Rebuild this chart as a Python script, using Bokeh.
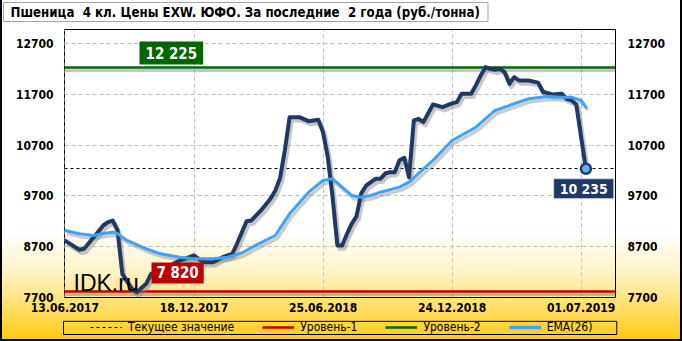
from bokeh.plotting import figure
from bokeh.models import (Range1d, FixedTicker, LinearAxis, Label, Legend, LegendItem)
from bokeh.embed import file_html
from bokeh.resources import INLINE

# ---------------- data ----------------
TITLE = "Пшеница \u00a04 кл. Цены EXW. ЮФО. За последние \u00a02 года (руб./тонна)"
tick_weeks = [0, 27, 54, 81, 108]
tick_dates = ["13.06.2017", "18.12.2017", "25.06.2018", "24.12.2018", "01.07.2019"]
y_ticks = [7700, 8700, 9700, 10700, 11700, 12700]

price_week = [0, 3, 4, 6, 7, 8, 9, 10, 11, 12, 14, 15, 17, 18, 20, 22, 24, 25, 27, 28,
              29, 31, 33, 35, 36, 38, 39, 41, 43, 44, 45, 46, 47, 49, 51, 53, 54, 55,
              56, 57, 58, 59, 60, 61, 62, 63, 64, 65, 66, 67, 68, 69, 70, 71, 72, 73,
              74, 75, 77, 79, 81, 82, 83, 85, 86, 87, 88, 89, 90, 91, 92, 93, 94, 95,
              97, 99, 100, 102, 104, 105, 106, 107, 108, 109]
price = [8820, 8640, 8660, 8887, 9000, 9117, 9182, 9215, 9020, 8165, 7871, 7804, 7970, 8166,
         8231, 8330, 8428, 8462, 8527, 8462, 8395, 8395, 8493, 8560, 8757, 9200, 9216, 9413,
         9643, 9800, 10050, 10594, 11249, 11249, 11170, 11198, 10950, 10462, 9675, 8724,
         8724, 8950, 9150, 9300, 9750, 9900, 9970, 10036, 10036, 10140, 10167, 10167, 10400,
         10450, 10068, 11184, 11218, 11151, 11500, 11447, 11520, 11545, 11709, 11709, 11880,
         12070, 12234, 12201, 12181, 12201, 12135, 11906, 12037, 11972, 11972, 11930, 11750,
         11697, 11709, 11611, 11578, 11500, 10856, 10235]

ema_week = [0, 3, 6, 8, 10, 11, 13, 17, 20, 24, 27, 31, 34, 37, 40, 44, 47, 51, 54, 56,
            58, 60, 62, 64, 66, 70, 72, 77, 81, 86, 90, 94, 97, 101, 104, 106, 108, 109]
ema = [9019, 8954, 8920, 8960, 8986, 8954, 8822, 8659, 8560, 8493, 8462, 8462, 8493, 8575,
       8730, 8920, 9347, 9773, 10003, 10036, 9872, 9708, 9675, 9708, 9773, 9872, 9970,
       10397, 10790, 11052, 11381, 11513, 11611, 11657, 11643, 11643, 11578, 11447]

level1 = 7820
level2 = 12225
current = price[-1]

legend_labels = ["Текущее значение", "Уровень-1", "Уровень-2", "EMA(26)"]

# ---------------- layout constants ----------------
W, H = 682, 341
H_TITLE, H_MAIN, H_LEG = 27, 289, 25
FL, FR, FT, FB = 64, 67, 2, 19
x0, x1 = -0.1, 115.2
y0, y1 = 7700, 12975
ppx = (W - FL - FR) / (x1 - x0)
ppy = (H_MAIN - FT - FB) / (y1 - y0)
FONT = "DejaVu Sans Condensed"

C_L1, C_L2, C_CUR, C_EMA, C_PRICE = "#c00000", "#006600", "black", "#3fa2f7", "#1f3864"


def strip_styles(top, bottom_border=False):
    sh = "inset 2px 0 0 0 #000, inset -2px 0 0 0 #000"
    if bottom_border:
        sh += ", inset 0 -2px 0 0 #000"
    return {"background": f"linear-gradient(to bottom, #ffffff {0 - top}px, #ffffff {232 - top}px, "
                          f"#fff3c4 {273 - top}px, #ffdf6a {307 - top}px, #ffca10 {341 - top}px)",
            "box-shadow": sh}


def blank_fig(h):
    f = figure(width=W, height=h, x_range=Range1d(0, 1), y_range=Range1d(0, 1),
               output_backend="svg", toolbar_location=None,
               x_axis_location=None, y_axis_location=None,
               min_border=0, min_border_left=0, min_border_right=0,
               min_border_top=0, min_border_bottom=0)
    f.grid.visible = False
    f.outline_line_color = None
    f.background_fill_color = None
    f.border_fill_color = None
    return f


def boxed(fig, text, x, y, xu, yu, anchor, bg, size, xo=0, yo=0, pad=None, color="white",
          border=None, shadow=True, font=FONT, style="bold"):
    pad = pad or {"left": 5, "right": 5, "top": 2, "bottom": 2}
    if shadow:
        fig.add_layout(Label(x=x, y=y, x_units=xu, y_units=yu, anchor=anchor, text=text,
                             x_offset=xo + 3, y_offset=yo - 3, text_alpha=0,
                             text_font=font, text_font_size=size, text_font_style=style,
                             background_fill_color="#7f7f7f", background_fill_alpha=0.55,
                             padding=pad))
    fig.add_layout(Label(x=x, y=y, x_units=xu, y_units=yu, anchor=anchor, text=text,
                         x_offset=xo, y_offset=yo, text_color=color,
                         text_font=font, text_font_size=size, text_font_style=style,
                         background_fill_color=bg, border_line_color=border,
                         padding=pad))


# ---------------- title strip ----------------
pt = blank_fig(H_TITLE)
pt.styles = strip_styles(0)
boxed(pt, TITLE, 3, H_TITLE - 2, "screen", "screen", "top_left", "white", "13.2px",
      color="black", border="#a6a6a6", pad={"left": 7, "right": 8, "top": 2, "bottom": 2})

# ---------------- main chart ----------------
p = figure(width=W, height=H_MAIN, x_range=Range1d(x0, x1), y_range=Range1d(y0, y1),
           output_backend="svg", toolbar_location=None,
           min_border_left=FL, min_border_right=FR, min_border_top=FT, min_border_bottom=FB)
p.styles = strip_styles(H_TITLE)
p.extra_x_ranges = {"sh": Range1d(x0 - 2 / ppx, x1 - 2 / ppx)}
p.extra_y_ranges = {"sh": Range1d(y0 + 3 / ppy, y1 + 3 / ppy)}
p.background_fill_color = None
p.border_fill_color = None
p.outline_line_color = "black"
p.outline_line_width = 1


def style_axis(ax, standoff):
    ax.major_tick_in = 0
    ax.major_tick_out = 0
    ax.minor_tick_in = 0
    ax.minor_tick_out = 0
    ax.axis_line_color = None
    ax.major_label_standoff = standoff
    ax.major_label_text_font = FONT
    ax.major_label_text_font_style = "bold"
    ax.major_label_text_font_size = "12px"
    ax.major_label_text_color = "black"


p.yaxis.ticker = FixedTicker(ticks=y_ticks)
style_axis(p.yaxis[0], 11)
ry = LinearAxis(ticker=FixedTicker(ticks=y_ticks))
style_axis(ry, 12)
p.add_layout(ry, "right")

p.xaxis.ticker = FixedTicker(ticks=tick_weeks)
p.xaxis.major_label_overrides = {w: d for w, d in zip(tick_weeks, tick_dates)}
style_axis(p.xaxis[0], 5)

p.xgrid.grid_line_color = "#bfbfbf"
p.xgrid.grid_line_dash = "4 3"
p.ygrid.grid_line_color = "#bfbfbf"
p.ygrid.grid_line_dash = "4 3"

p.hspan(y=[level1, level2], line_color="#808080", line_alpha=0.45, line_width=3,
        x_range_name="sh", y_range_name="sh")
p.hspan(y=[level1], line_color=C_L1, line_width=2.5)
p.hspan(y=[level2], line_color=C_L2, line_width=2.5)
p.hspan(y=[current], line_color=C_CUR, line_dash="3 3", line_width=1)

p.line(price_week, price, line_color="#808080", line_alpha=0.45, line_width=4.5,
       line_join="round", x_range_name="sh", y_range_name="sh")
p.line(ema_week, ema, line_color="#808080", line_alpha=0.4, line_width=3.5,
       line_join="round", x_range_name="sh", y_range_name="sh")
p.line(price_week, price, line_color=C_PRICE, line_width=4, line_join="round", line_cap="round")
p.line(ema_week, ema, line_color=C_EMA, line_width=3, line_join="round", line_cap="round")
p.scatter([price_week[-1]], [price[-1]], size=10, fill_color="#5ab4e5",
          line_color=C_PRICE, line_width=2.5)

boxed(p, "12 225", 139 - FL, level2, "screen", "data", "bottom_left", C_L2, "15px",
      yo=3, pad={"left": 6, "right": 6, "top": 3, "bottom": 2})
boxed(p, "7 820", 151 - FL, level1, "screen", "data", "bottom_left", C_L1, "15px",
      yo=8, pad={"left": 5, "right": 5, "top": 2, "bottom": 1})
boxed(p, f"{current // 1000} {current % 1000:03d}", price_week[-1], current, "data", "data",
      "top_right", C_PRICE, "14px", xo=28, yo=-10, border="#d0d8e8",
      pad={"left": 6, "right": 6, "top": 2, "bottom": 2})

p.add_layout(Label(x=9, y=15, x_units="screen", y_units="screen", text="IDK.ru",
                   text_baseline="alphabetic", text_font="Liberation Sans",
                   text_font_size="23px", text_color="black"))

# ---------------- legend strip ----------------
# the legend strip shows only the legend; its own (0..1) ranges keep these
# series renderers out of view, they only provide the legend swatches
pl = blank_fig(H_LEG)
pl.styles = strip_styles(H_TITLE + H_MAIN, bottom_border=True)
boxed(pl, " ", 63, H_LEG - 18, "screen", "screen", "bottom_left", None, "1px",
      border="black", color="black", style="normal", shadow=False,
      pad={"left": 277, "right": 276, "top": 6, "bottom": 6})
lr = [pl.hspan(y=[current], line_color=C_CUR, line_dash="3 3", line_width=1),
      pl.hspan(y=[level1], line_color=C_L1, line_width=2.5),
      pl.hspan(y=[level2], line_color=C_L2, line_width=2.5),
      pl.line(ema_week, ema, line_color=C_EMA, line_width=3.5)]
legend = Legend(items=[LegendItem(label=t, renderers=[r]) for t, r in zip(legend_labels, lr)],
                orientation="horizontal", location=(90, H_LEG - 17.5),
                padding=0, spacing=28, margin=0, glyph_width=32, glyph_height=12,
                label_height=12, label_standoff=6, border_line_color=None,
                background_fill_alpha=0, label_text_font=FONT, label_text_font_size="12px",
                label_text_color="black")
pl.add_layout(legend)

open("out.html", "w").write(file_html([pt, p, pl], INLINE))
